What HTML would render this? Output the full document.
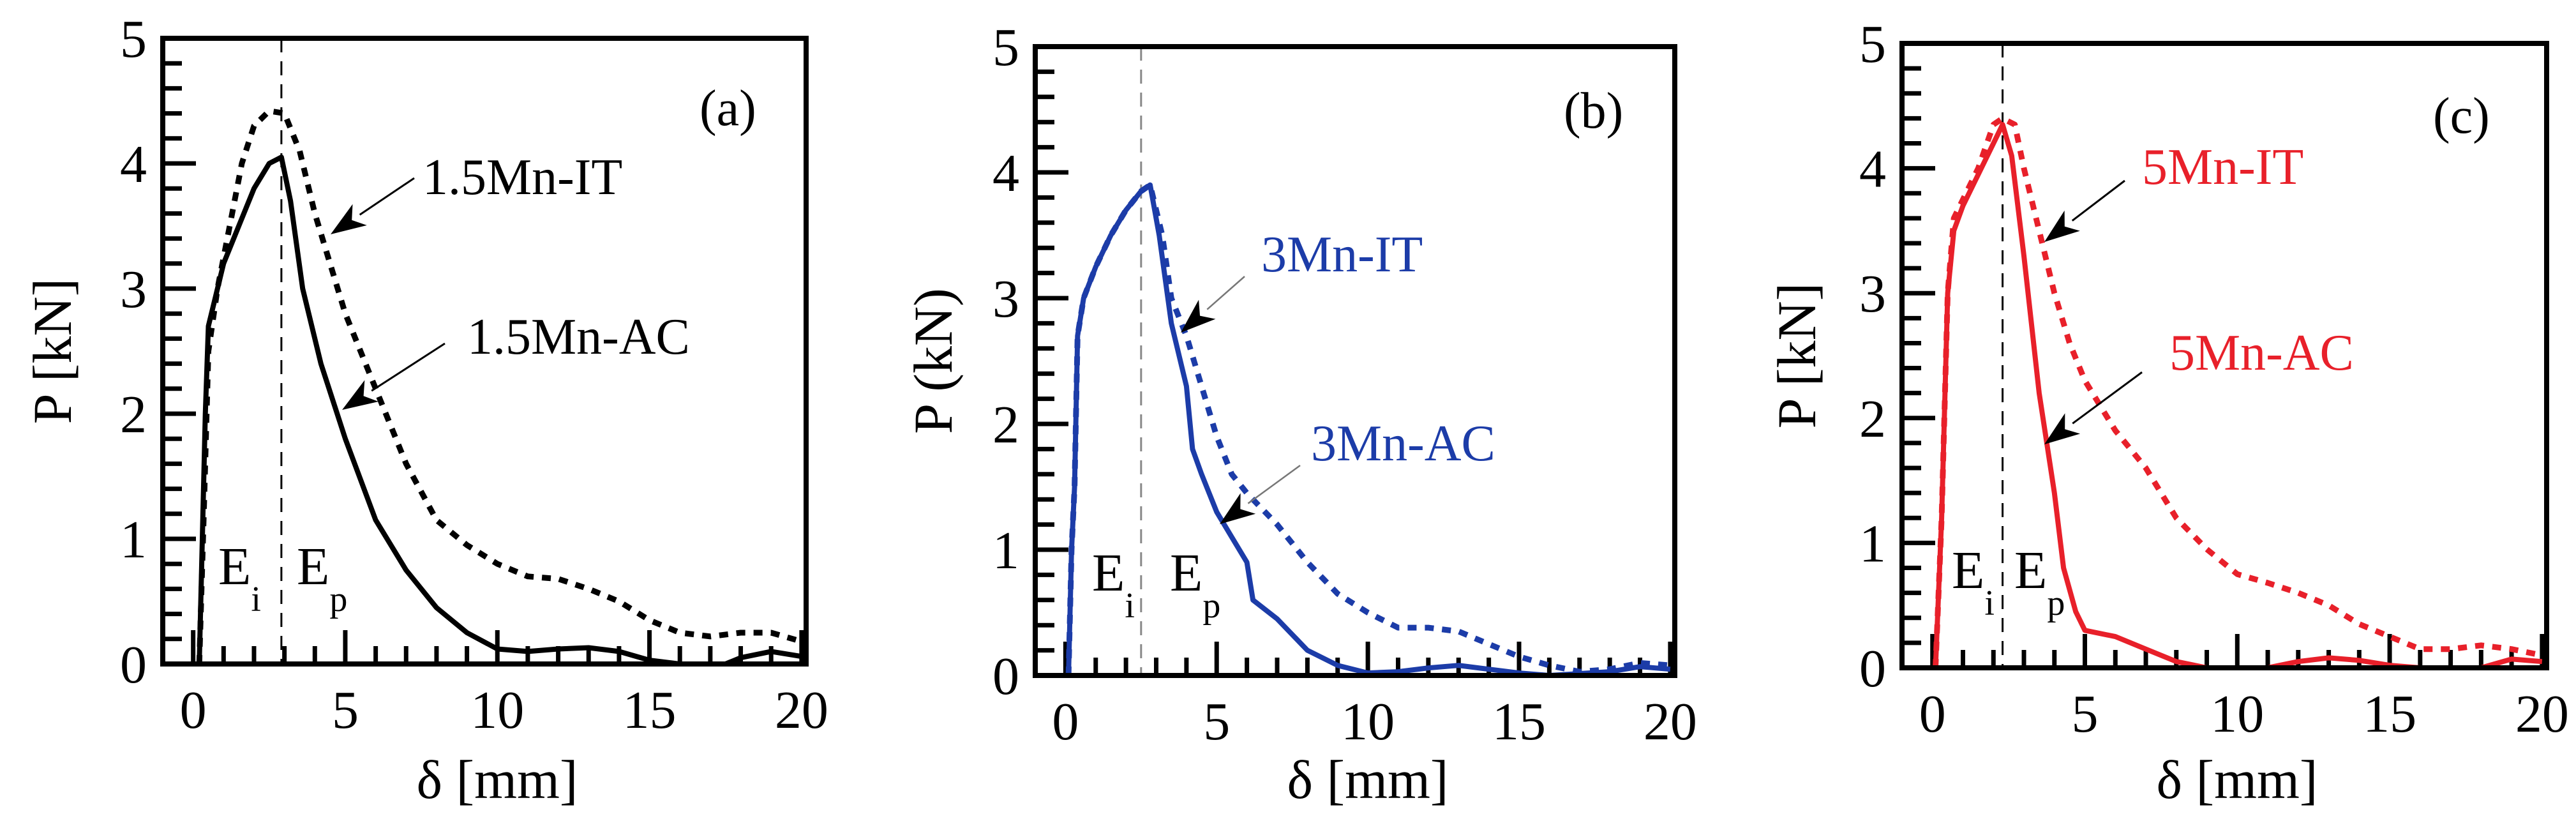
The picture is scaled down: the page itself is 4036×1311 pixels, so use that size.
<!DOCTYPE html>
<html><head><meta charset="utf-8"><style>
html,body{margin:0;padding:0;background:#fff;}
svg{display:block;}
text{font-family:"Liberation Serif",serif;}
</style></head><body>
<svg id="fig" width="4036" height="1311" viewBox="0 0 4036 1311" xmlns="http://www.w3.org/2000/svg">
<defs>
<marker id="ah" viewBox="0 0 10 10" refX="9" refY="5" markerWidth="9" markerHeight="9" markerUnits="userSpaceOnUse" orient="auto"><path d="M0,0 L10,5 L0,10 z" fill="#000"/></marker>
</defs>
</svg>
<script>
const xTicks=[0,5,10,15,20];
const yTicks=[0,1,2,3,4,5];
// Panel (a) 1.5Mn
const aAcX=[0.2,0.3,0.4,0.5,1,1.5,2,2.5,2.9,3.2,3.6,4.2,5,6,7,8,9,10,11,12,13,14,15,16,17,17.5,18,19,20];
const aAcY=[0,1,2,2.7,3.2,3.5,3.8,4.0,4.05,3.7,3.0,2.4,1.8,1.15,0.75,0.45,0.25,0.12,0.1,0.12,0.13,0.1,0.03,0,0,0,0.05,0.1,0.06];
const aItX=[0.2,0.35,0.5,0.8,1.2,1.6,2,2.5,3,3.5,4,4.5,5,6,7,8,9,10,11,12,13,14,15,16,17,18,19,20];
const aItY=[0,1.2,2.5,3.0,3.5,4.0,4.3,4.42,4.4,4.1,3.6,3.2,2.8,2.2,1.6,1.15,0.95,0.8,0.7,0.68,0.6,0.5,0.35,0.25,0.22,0.25,0.25,0.18];
// Panel (b) 3Mn
const bAcX=[0.1,0.2,0.3,0.4,0.6,1,1.5,2,2.5,2.8,3.1,3.5,4,4.2,4.5,5,5.5,6,6.2,7,8,9,10,11,12,13,14,15,16,18,19,20];
const bAcY=[0,1,1.5,2.7,3,3.25,3.5,3.7,3.85,3.9,3.5,2.8,2.3,1.8,1.6,1.3,1.1,0.9,0.6,0.45,0.2,0.08,0.02,0.03,0.06,0.08,0.05,0.02,0,0.03,0.07,0.05];
const bItX=[0.1,0.2,0.3,0.4,0.6,1,1.5,2,2.5,2.8,3.2,3.5,4,4.5,5,5.5,6,7,8,9,10,11,12,13,14,15,16,17,18,19,20];
const bItY=[0,1,1.5,2.7,3,3.25,3.5,3.7,3.85,3.9,3.5,3.0,2.7,2.3,1.9,1.6,1.45,1.2,0.9,0.65,0.5,0.38,0.38,0.35,0.25,0.15,0.08,0.03,0.05,0.1,0.08];
// Panel (c) 5Mn
const cAcX=[0.1,0.3,0.5,0.7,1,1.5,2,2.3,2.6,3,3.5,4,4.3,4.7,5,6,7,8,9,11,12,13,14,15,16,18,19,20];
const cAcY=[0,1.2,3.0,3.5,3.7,3.95,4.2,4.35,4.1,3.3,2.2,1.4,0.8,0.45,0.3,0.25,0.15,0.05,0,0,0.05,0.08,0.06,0.02,0,0,0.07,0.05];
const cItX=[0.1,0.3,0.5,0.7,1,1.5,2,2.3,2.7,3,3.5,4,4.5,5,6,7,8,9,10,11,12,13,14,15,16,17,18,19,20];
const cItY=[0,1.2,3.0,3.6,3.75,4.0,4.35,4.4,4.35,4.0,3.5,3.0,2.6,2.3,1.9,1.6,1.2,0.95,0.75,0.68,0.6,0.5,0.35,0.25,0.15,0.15,0.18,0.15,0.1];

const NS='http://www.w3.org/2000/svg';
const svg=document.getElementById('fig');
function mk(tag,attrs,parent){const e=document.createElementNS(NS,tag);for(const k in attrs)e.setAttribute(k,attrs[k]);(parent||svg).appendChild(e);return e;}

const panels=[
 {id:'a',L:255,R:1263,T:60,B:1040,color:'#000',vline:2.9,vcol:'#000',ylab:'P [kN]',ylabX:83,
  ac:[aAcX,aAcY],it:[aItX,aItY],
  itLab:['1.5Mn-IT',662,304],itArr:[649,279,518,367],acLab:['1.5Mn-AC',732,554],acArr:[697,538,536,642],
  tag:[1096,196],ei:[342,915],ep:[465,915],arrCol:'#000',arrW:3},
 {id:'b',L:1622,R:2624,T:73,B:1058,color:'#1c3ca8',vline:2.5,vcol:'#888',ylab:'P (kN)',ylabX:1463,
  ac:[bAcX,bAcY],it:[bItX,bItY],
  itLab:['3Mn-IT',1976,425],itArr:[1950,433,1850,521],acLab:['3Mn-AC',2054,721],acArr:[2037,729,1911,821],
  tag:[2450,200],ei:[1711,925],ep:[1833,925],arrCol:'#777',arrW:2.5},
 {id:'c',L:2980,R:3990,T:68,B:1046,color:'#e8202a',vline:2.3,vcol:'#000',ylab:'P [kN]',ylabX:2816,
  ac:[cAcX,cAcY],it:[cItX,cItY],
  itLab:['5Mn-IT',3356,288],itArr:[3329,283,3203,379],acLab:['5Mn-AC',3399,579],acArr:[3356,583,3203,696],
  tag:[3812,208],ei:[3058,921],ep:[3156,921],arrCol:'#000',arrW:3}
];

panels.forEach(p=>{
 const g=mk('g',{});
 
 
 const ux=(p.R-p.L)/21.15;
 const sx=v=>p.L+(v+1)*ux;
 const sy=v=>p.B-(v/5)*(p.B-p.T);
 // ticks
 for(let i=0;i<=25;i++){
  const v=i*0.2, y=sy(v), major=(i%5===0);
  const t=mk('line',{x1:p.L,y1:y,x2:p.L+(major?52:30),y2:y,stroke:'#000','stroke-width':7},g);
  
  
 }
 for(let v=0;v<=20;v++){
  const x=sx(v), major=(v%5===0);
  const t=mk('line',{x1:x,y1:p.B,x2:x,y2:p.B-(major?53:28),stroke:'#000','stroke-width':7},g);
  
  
 }
 yTicks.forEach(v=>{
  const t=mk('text',{x:p.L-25,y:sy(v)+29,'font-size':84,'text-anchor':'end',fill:'#000'},g);
  t.textContent=v;
  
  
 });
 xTicks.forEach(v=>{
  const t=mk('text',{x:sx(v),y:p.B+100,'font-size':84,'text-anchor':'middle',fill:'#000'},g);
  t.textContent=v;
  
  
 });
 const xt=mk('text',{x:(p.L+p.R)/2+20,y:1250,'font-size':86,'text-anchor':'middle',fill:'#000'},g);
 xt.textContent='δ [mm]';
 
 
 const cy=(p.T+p.B)/2;
 const yt=mk('text',{x:p.ylabX+28,y:cy,'font-size':86,'text-anchor':'middle',fill:'#000',transform:`rotate(-90 ${p.ylabX+28} ${cy})`},g);
 yt.textContent=p.ylab;
 
 
 // vertical dashed
 const vl=mk('line',{x1:sx(p.vline),y1:p.T,x2:sx(p.vline),y2:p.B,stroke:p.vcol,'stroke-width':3,'stroke-dasharray':'22 14'},g);
 
 
 // series
 const path=(xs,ys)=>xs.map((x,i)=>(i?'L':'M')+sx(x).toFixed(1)+','+sy(ys[i]).toFixed(1)).join(' ');
 const it=mk('path',{d:path(p.it[0],p.it[1]),fill:'none',stroke:p.color,'stroke-width':9,'stroke-dasharray':'14 13','stroke-linejoin':'round'},g);
 
 
 const ac=mk('path',{d:path(p.ac[0],p.ac[1]),fill:'none',stroke:p.color,'stroke-width':8,'stroke-linejoin':'round'},g);
 
 
 // box
 const box=mk('rect',{x:p.L,y:p.T,width:p.R-p.L,height:p.B-p.T,fill:'none',stroke:'#000','stroke-width':8},g);
 
 
 // annotations
 [[p.itLab,p.itArr,'it'],[p.acLab,p.acArr,'ac']].forEach(([lab,ar,k])=>{
  const t=mk('text',{x:lab[1],y:lab[2],'font-size':80,fill:p.color},g);
  t.textContent=lab[0];
  
  
  const dx=ar[2]-ar[0],dy=ar[3]-ar[1],len=Math.hypot(dx,dy),ux2=dx/len,uy2=dy/len;
  const hb=[ar[2]-ux2*55,ar[3]-uy2*55];
  const l=mk('line',{x1:ar[0],y1:ar[1],x2:hb[0],y2:hb[1],stroke:p.arrCol,'stroke-width':p.arrW},g);
  
  
  const px=-uy2*20,py=ux2*20;
  const h=mk('polygon',{points:`${ar[2]},${ar[3]} ${hb[0]+px},${hb[1]+py} ${hb[0]+ux2*15},${hb[1]+uy2*15} ${hb[0]-px},${hb[1]-py}`,fill:'#000'},g);
  
  
 });
 const tg=mk('text',{x:p.tag[0],y:p.tag[1],'font-size':80,fill:'#000'},g);
 tg.textContent='('+p.id+')';
 
 
 [[p.ei,'i','ei'],[p.ep,'p','ep']].forEach(([pos,sub,k])=>{
  const t=mk('text',{x:pos[0],y:pos[1],'font-size':84,fill:'#000'},g);
  t.textContent='E';
  const s=mk('tspan',{dy:42,'font-size':56},t);
  s.textContent=sub;
  
  
 });
});
</script>
</body></html>
